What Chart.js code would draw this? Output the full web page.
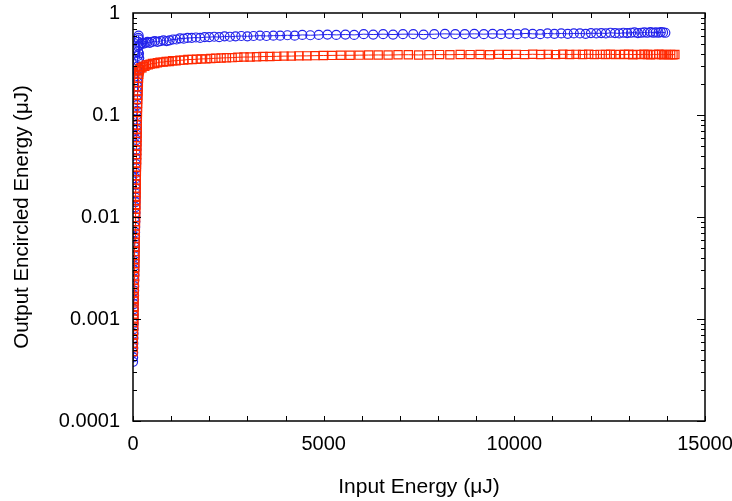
<!DOCTYPE html>
<html>
<head>
<meta charset="utf-8">
<script src="https://cdn.jsdelivr.net/npm/chart.js@4/dist/chart.umd.min.js"></script>
<style>
  body { margin: 0; background: #fff; }
  #wrap { width: 732px; height: 501px; }
</style>
</head>
<body>
<div id="wrap"><canvas id="energy"></canvas></div>
<script>
// steep rise at very low input energy, then the slow part
const blueX = [1, 3, 5, 7, 9, 11, 13, 15, 17, 19,
  21, 23, 25, 27, 29, 31, 33, 35, 37, 39,
  41, 43, 45, 47, 49, 51, 53, 55, 57, 59,
  61, 63, 65, 67, 69, 71, 73, 75, 77, 79,
  81, 83, 85, 87, 89, 91, 93, 95, 97, 99,
  101, 103, 105, 107, 109, 111, 113, 115, 117, 119,
  122, 125, 128, 131, 134, 137, 140, 144, 148, 152, 157, 163,
  170, 200, 240, 280, 330, 380, 440, 500, 570, 640,
  720, 800, 880, 960, 1050, 1140, 1230, 1330, 1430, 1540,
  1650, 1760, 1880, 2000, 2130, 2260, 2400, 2540, 2690, 2840,
  3000, 3160, 3330, 3500, 3680, 3860, 4050, 4240, 4440, 4650,
  4870, 5100, 5330, 5570, 5800, 6050, 6300, 6560, 6820, 7080,
  7350, 7620, 7900, 8180, 8450, 8700, 8950, 9200, 9430, 9650,
  9870, 10080, 10280, 10480, 10680, 10870, 11050, 11230, 11400, 11560,
  11720, 11870, 12010, 12150, 12280, 12400, 12520, 12640, 12750, 12860,
  12960, 13060, 13150, 13240, 13330, 13410, 13490, 13570, 13640, 13710,
  13780, 13840, 13900, 13960];
const blueY = [0.00038, 0.00042, 0.00047, 0.00052, 0.00058, 0.00065, 0.00072, 0.0008, 0.0009, 0.001,
  0.0011, 0.00125, 0.0014, 0.00155, 0.0017, 0.0019, 0.0021, 0.0024, 0.0027, 0.003,
  0.0033, 0.0037, 0.0041, 0.0046, 0.0051, 0.0057, 0.0064, 0.0071, 0.008, 0.009,
  0.01, 0.011, 0.0125, 0.014, 0.0155, 0.017, 0.019, 0.021, 0.024, 0.027,
  0.03, 0.033, 0.037, 0.041, 0.046, 0.051, 0.057, 0.064, 0.071, 0.08,
  0.09, 0.1, 0.11, 0.125, 0.14, 0.155, 0.17, 0.19, 0.21, 0.24,
  0.27, 0.3, 0.34, 0.38, 0.42, 0.47, 0.52, 0.57, 0.6, 0.55, 0.4, 0.36,
  0.48, 0.50, 0.51, 0.50, 0.51, 0.52, 0.51, 0.52, 0.53, 0.52,
  0.53, 0.54, 0.53, 0.54, 0.55, 0.55, 0.565, 0.56, 0.57, 0.57,
  0.575, 0.57, 0.58, 0.58, 0.585, 0.58, 0.59, 0.585, 0.59, 0.595,
  0.59, 0.595, 0.60, 0.595, 0.60, 0.60, 0.605, 0.60, 0.61, 0.605,
  0.61, 0.615, 0.61, 0.615, 0.61, 0.62, 0.615, 0.62, 0.615, 0.62,
  0.62, 0.615, 0.62, 0.625, 0.62, 0.62, 0.625, 0.62, 0.625, 0.62,
  0.625, 0.62, 0.63, 0.625, 0.62, 0.63, 0.625, 0.63, 0.625, 0.63,
  0.63, 0.625, 0.635, 0.63, 0.635, 0.63, 0.64, 0.635, 0.63, 0.64,
  0.635, 0.64, 0.645, 0.635, 0.64, 0.645, 0.64, 0.65, 0.64, 0.645,
  0.64, 0.65, 0.645, 0.64];

const redX = [2, 4, 6, 8, 10, 12, 14, 16, 18, 20,
  22, 24, 26, 28, 30, 32, 34, 36, 38, 40,
  42, 44, 46, 48, 50, 52, 54, 56, 58, 60,
  62, 64, 66, 68, 70, 72, 74, 76, 78, 80,
  82, 84, 86, 88, 90, 92, 94, 96, 98, 100,
  102, 104, 106, 108, 110, 112, 114, 116, 118, 120,
  124, 128, 132, 136, 140, 145, 150, 155, 160,
  170, 200, 235, 270, 310, 350, 400, 450, 510, 570,
  640, 710, 790, 870, 950, 1040, 1130, 1230, 1330, 1440,
  1550, 1670, 1790, 1910, 2040, 2170, 2310, 2450, 2600, 2750,
  2910, 3070, 3240, 3410, 3590, 3770, 3960, 4150, 4350, 4560,
  4770, 4990, 5220, 5450, 5690, 5930, 6180, 6430, 6690, 6950,
  7220, 7490, 7760, 8040, 8310, 8580, 8840, 9100, 9350, 9590,
  9820, 10050, 10270, 10480, 10690, 10890, 11080, 11270, 11450, 11620,
  11790, 11950, 12100, 12250, 12390, 12520, 12650, 12770, 12890, 13000,
  13110, 13210, 13310, 13400, 13490, 13570, 13650, 13720, 13790, 13860,
  13920, 13980, 14040, 14100, 14160, 14210];
const redY = [0.00048, 0.00053, 0.00058, 0.00064, 0.0007, 0.00077, 0.00085, 0.00093, 0.001, 0.0011,
  0.0012, 0.0013, 0.0015, 0.0016, 0.0018, 0.002, 0.0022, 0.0024, 0.0026, 0.0029,
  0.0032, 0.0035, 0.0038, 0.0042, 0.0046, 0.0051, 0.0056, 0.0062, 0.0068, 0.0075,
  0.0082, 0.009, 0.0099, 0.011, 0.012, 0.013, 0.0145, 0.016, 0.0175, 0.019,
  0.021, 0.023, 0.0255, 0.028, 0.031, 0.034, 0.037, 0.041, 0.045, 0.05,
  0.055, 0.06, 0.066, 0.073, 0.08, 0.088, 0.097, 0.107, 0.118, 0.13,
  0.143, 0.157, 0.173, 0.19, 0.21, 0.23, 0.25, 0.265, 0.275,
  0.28, 0.29, 0.29, 0.30, 0.30, 0.31, 0.31, 0.315, 0.32, 0.32,
  0.325, 0.33, 0.33, 0.335, 0.335, 0.34, 0.34, 0.345, 0.345, 0.35,
  0.35, 0.352, 0.355, 0.355, 0.358, 0.36, 0.362, 0.364, 0.365, 0.368,
  0.37, 0.37, 0.372, 0.374, 0.375, 0.376, 0.378, 0.378, 0.38, 0.38,
  0.382, 0.383, 0.384, 0.385, 0.385, 0.386, 0.387, 0.388, 0.387, 0.389,
  0.39, 0.388, 0.39, 0.391, 0.39, 0.392, 0.391, 0.392, 0.39, 0.393,
  0.392, 0.393, 0.391, 0.394, 0.392, 0.393, 0.391, 0.394, 0.392, 0.393,
  0.392, 0.394, 0.391, 0.393, 0.392, 0.394, 0.391, 0.393, 0.392, 0.394,
  0.39, 0.393, 0.391, 0.394, 0.392, 0.39, 0.393, 0.391, 0.394, 0.392,
  0.39, 0.393, 0.391, 0.392, 0.39, 0.392];

const xTicks = [0, 5000, 10000, 15000];
const yTicks = [0.0001, 0.001, 0.01, 0.1, 1];

const pts = (xs, ys) => xs.map((x, i) => ({ x: x, y: ys[i] }));

// box with inward ticks on all four sides
const frame = {
  id: 'frame',
  afterDraw(chart) {
    const { ctx, chartArea: a, scales: { x, y } } = chart;
    ctx.save();
    ctx.strokeStyle = '#000';
    ctx.lineWidth = 1;
    ctx.beginPath();
    for (let v = 0; v <= 15000; v += 1000) {
      const px = Math.round(x.getPixelForValue(v)) + 0.5;
      ctx.moveTo(px, a.bottom); ctx.lineTo(px, a.bottom - 5);
      ctx.moveTo(px, a.top); ctx.lineTo(px, a.top + 5);
    }
    for (let e = -4; e < 0; e++) {
      for (let m = 1; m <= 9; m++) {
        const py = Math.round(y.getPixelForValue(m * Math.pow(10, e))) + 0.5;
        const len = m === 1 ? 8 : 4;
        ctx.moveTo(a.left, py); ctx.lineTo(a.left + len, py);
        ctx.moveTo(a.right, py); ctx.lineTo(a.right - len, py);
      }
    }
    ctx.stroke();
    ctx.lineWidth = 1.5;
    ctx.strokeRect(a.left, a.top, a.right - a.left, a.bottom - a.top);
    ctx.restore();
  }
};

Chart.defaults.font.family = "'Liberation Sans', Arial, sans-serif";
Chart.defaults.font.size = 20;
Chart.defaults.color = '#000';

const ctx = document.getElementById('energy').getContext('2d');
const chart = new Chart(ctx, {
  type: 'scatter',
  data: {
    datasets: [{
      data: pts(redX, redY),
      showLine: true,
      clip: 0,
      borderColor: 'rgb(255, 40, 0)',
      borderWidth: 1,
      pointStyle: 'rect',
      pointRadius: 5.8,
      pointBorderWidth: 1.2,
      pointBackgroundColor: 'rgba(0,0,0,0)',
      pointBorderColor: 'rgb(255, 40, 0)'
    }, {
      data: pts(blueX, blueY),
      showLine: true,
      clip: 0,
      borderColor: 'rgb(35, 35, 235)',
      borderWidth: 1,
      pointStyle: 'circle',
      pointRadius: 4.5,
      pointBorderWidth: 1.2,
      pointBackgroundColor: 'rgba(0,0,0,0)',
      pointBorderColor: 'rgb(35, 35, 235)'
    }]
  },
  options: {
    responsive: true,
    maintainAspectRatio: false,
    animation: false,
    layout: { padding: { top: 13, right: 27, left: 0, bottom: 0 } },
    plugins: { legend: { display: false }, tooltip: { enabled: false } },
    scales: {
      x: {
        type: 'linear',
        min: 0,
        max: 15000,
        grid: { display: false, drawTicks: false },
        border: { display: false },
        ticks: { padding: 11, maxRotation: 0, callback: v => String(v) },
        afterBuildTicks: s => { s.ticks = xTicks.map(v => ({ value: v })); },
        title: { display: true, text: 'Input Energy (μJ)', font: { size: 21 }, padding: { top: 0, bottom: 1.5 } },
        afterFit: s => { s.height = 80; s.paddingLeft = 0; s.paddingRight = 0; }
      },
      y: {
        type: 'logarithmic',
        min: 0.0001,
        max: 1,
        grid: { display: false, drawTicks: false },
        border: { display: false },
        ticks: { padding: 13, callback: v => String(v) },
        afterBuildTicks: s => { s.ticks = yTicks.map(v => ({ value: v })); },
        title: { display: true, text: 'Output Encircled Energy (μJ)', font: { size: 20.5 }, padding: { top: 10, bottom: 0 } },
        afterFit: s => { s.width = 133; s.paddingTop = 0; s.paddingBottom = 0; }
      }
    }
  },
  plugins: [frame]
});
</script>
</body>
</html>
